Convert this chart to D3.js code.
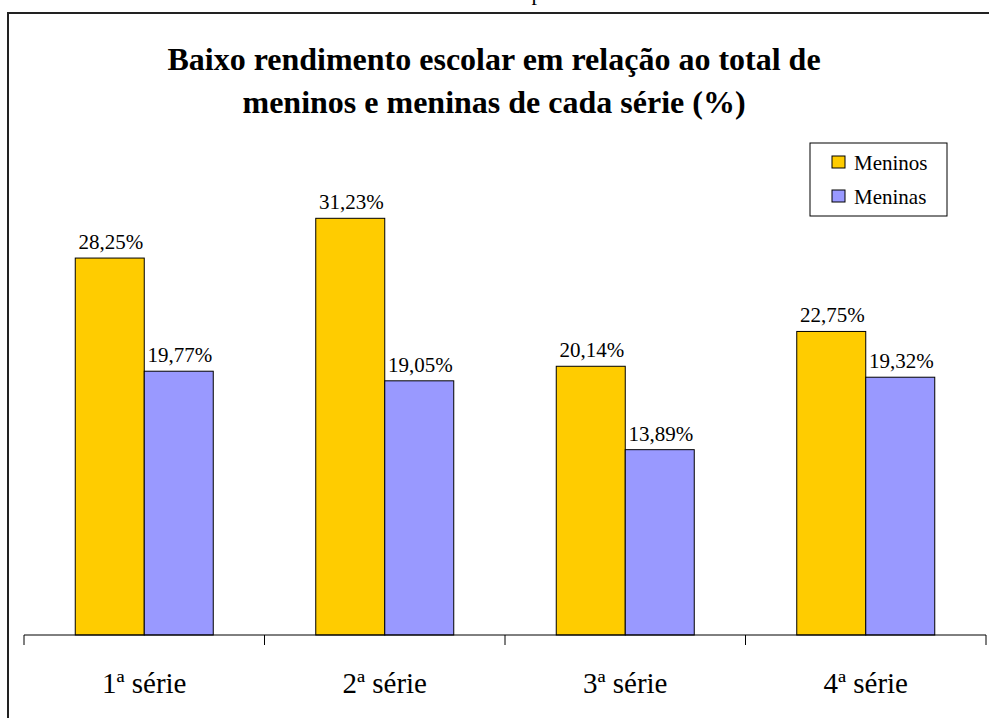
<!DOCTYPE html>
<html>
<head>
  <meta charset="utf-8">
  <style>
    body { margin: 0; background: #fff; }
    .bar { stroke: #000; stroke-width: 1px; }
  </style>
</head>
<body>
  <svg width="989" height="718"></svg>
  <script src="https://d3js.org/d3.v7.min.js"></script>
  <script>

  var categories = ["1ª série", "2ª série", "3ª série", "4ª série"];
  var seriesNames = ["Meninos", "Meninas"];
  var meninos = [28.25, 31.23, 20.14, 22.75];
  var meninas = [19.77, 19.05, 13.89, 19.32];
  var colors = ["#FFCC00", "#9999FF"];
  var titleLines = ["Baixo rendimento escolar em relação ao total de",
                    "meninos e meninas de cada série (%)"];

  var serif = "Times New Roman, Times, Liberation Serif, DejaVu Serif, serif";
  var svg = d3.select("svg").style("font-family", serif);

  // bit of text cut off above the chart
  svg.append("text")
    .attr("x", 537).attr("y", 0)
    .attr("text-anchor", "middle")
    .style("font-size", "22px")
    .text("p");

  // outer frame (runs off the right and bottom edges)
  svg.append("path")
    .attr("d", "M8,1000 L8,13 L1000,13")
    .attr("fill", "none")
    .attr("stroke", "#222")
    .attr("stroke-width", 2);

  // title
  svg.append("g").selectAll("text")
    .data(titleLines)
    .enter().append("text")
    .attr("x", 494)
    .attr("y", function(d, i) { return 70 + i * 43; })
    .attr("text-anchor", "middle")
    .style("font-size", "32px")
    .style("font-weight", "bold")
    .text(function(d) { return d; });

  var data = categories.map(function(c, i) {
    return {cat: c, values: [meninos[i], meninas[i]]};
  });

  var x0 = d3.scaleBand().domain(categories).range([24, 986]);
  var groupW = 138;
  var x1 = d3.scaleBand().domain(seriesNames).range([0, groupW]);
  var y = d3.scaleLinear().domain([0, 35]).range([635, 168]);

  var fmt = function(v) { return v.toFixed(2).replace(".", ",") + "%"; };

  var group = svg.selectAll(".grp")
    .data(data)
    .enter().append("g")
    .attr("class", "grp")
    .attr("transform", function(d) {
      return "translate(" + (x0(d.cat) + (x0.bandwidth() - groupW) / 2) + ",0)";
    });

  group.selectAll("rect")
    .data(function(d) { return d.values.map(function(v, j) { return {s: seriesNames[j], v: v, j: j}; }); })
    .enter().append("rect")
    .attr("class", "bar")
    .attr("x", function(d) { return x1(d.s); })
    .attr("y", function(d) { return y(d.v); })
    .attr("width", x1.bandwidth())
    .attr("height", function(d) { return y(0) - y(d.v); })
    .attr("fill", function(d) { return colors[d.j]; });

  group.selectAll(".lbl")
    .data(function(d) { return d.values.map(function(v, j) { return {s: seriesNames[j], v: v}; }); })
    .enter().append("text")
    .attr("class", "lbl")
    .attr("x", function(d) { return x1(d.s) + x1.bandwidth() / 2 + 1; })
    .attr("y", function(d) { return y(d.v) - 9; })
    .attr("text-anchor", "middle")
    .style("font-size", "21px")
    .text(function(d) { return fmt(d.v); });

  // category axis with ticks between groups
  var axis = svg.append("g");
  axis.append("line")
    .attr("x1", x0.range()[0]).attr("x2", x0.range()[1])
    .attr("y1", y(0)).attr("y2", y(0))
    .attr("stroke", "#000");
  var bounds = categories.map(function(c) { return x0(c); }).concat([x0.range()[1]]);
  axis.selectAll(".tick")
    .data(bounds)
    .enter().append("line")
    .attr("x1", function(d) { return d; }).attr("x2", function(d) { return d; })
    .attr("y1", y(0)).attr("y2", y(0) + 10)
    .attr("stroke", "#000");
  axis.selectAll(".cat")
    .data(categories)
    .enter().append("text")
    .attr("x", function(d) { return x0(d) + x0.bandwidth() / 2; })
    .attr("y", 693)
    .attr("text-anchor", "middle")
    .style("font-size", "29px")
    .text(function(d) { return d; });

  // legend
  var legend = svg.append("g");
  legend.append("rect")
    .attr("x", 810).attr("y", 143).attr("width", 137).attr("height", 73)
    .attr("fill", "#fff").attr("stroke", "#000");
  var item = legend.selectAll(".item")
    .data(seriesNames)
    .enter().append("g")
    .attr("transform", function(d, i) { return "translate(0," + (i * 34) + ")"; });
  item.append("rect")
    .attr("x", 832).attr("y", 156).attr("width", 13).attr("height", 12)
    .attr("fill", function(d, i) { return colors[i]; })
    .attr("stroke", "#000");
  item.append("text")
    .attr("x", 854).attr("y", 170)
    .style("font-size", "21px")
    .text(function(d) { return d; });

  </script>
</body>
</html>
